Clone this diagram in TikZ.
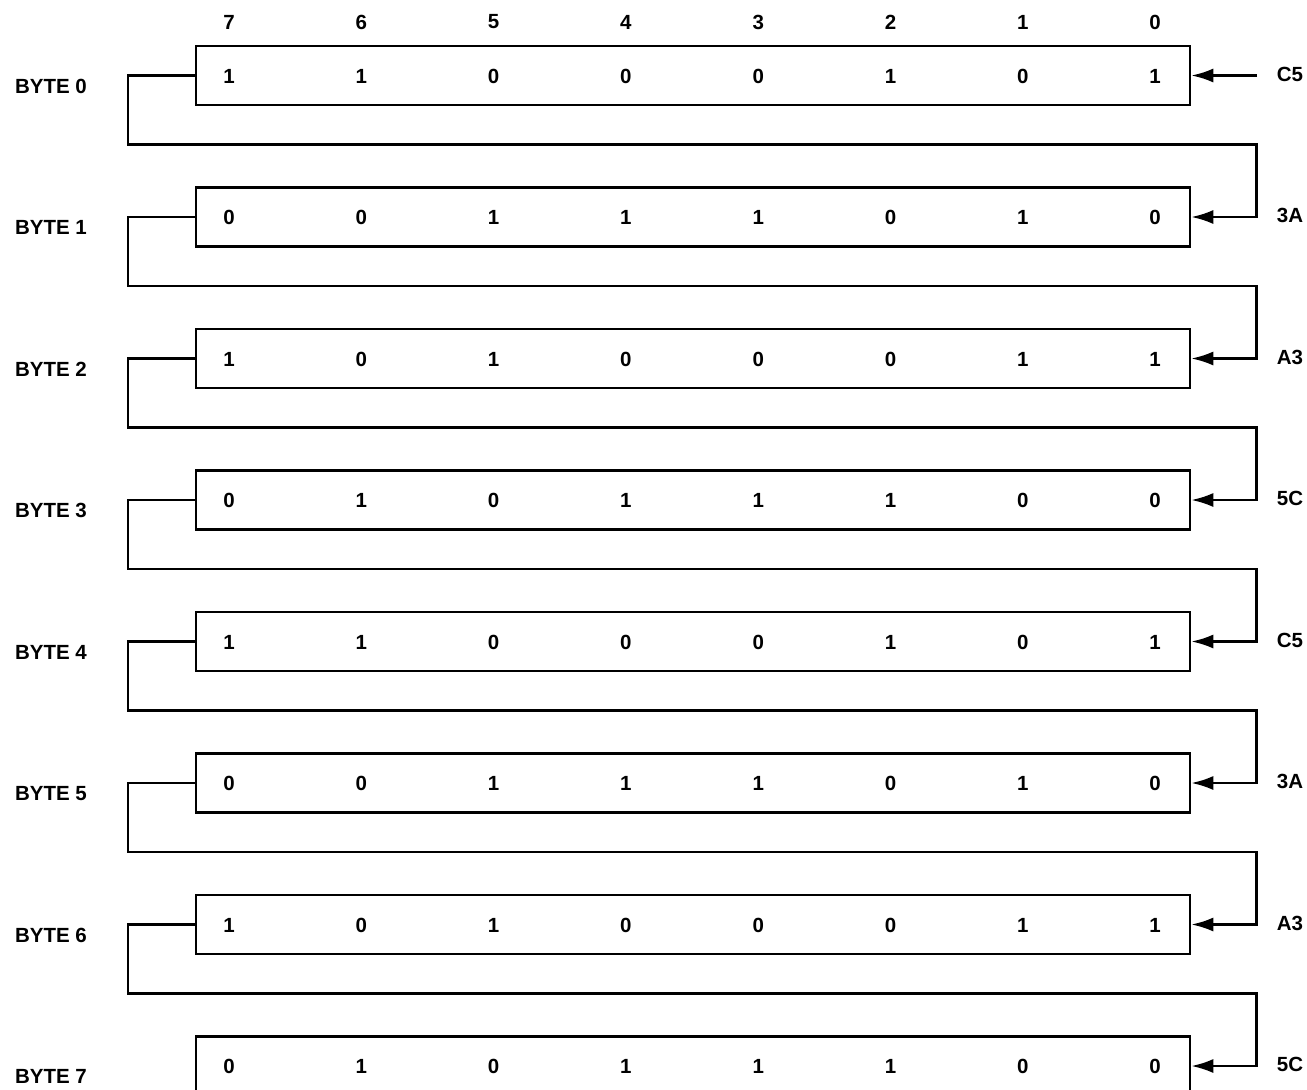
\documentclass[tikz,border=0pt]{standalone}
\usepackage{fontspec}
\setmainfont{Liberation Sans}
\usetikzlibrary{arrows.meta}
\begin{document}
\begin{tikzpicture}[x=1pt,y=-1pt,
  bytebox/.style={draw,line width=2.5pt,minimum width=994pt,minimum height=59pt,inner sep=0pt},
  arr/.style={line width=2.5pt,-{Latex[length=22pt,width=14pt]}},
  txt/.style={font=\fontsize{20.5}{24}\selectfont\bfseries,inner sep=0pt},
  lbl/.style={font=\fontsize{20.5}{24}\selectfont\bfseries,inner sep=0pt}]
\useasboundingbox (0,0) rectangle (1307,1090);
\clip (0,0) rectangle (1307,1090);
% bit headers
\foreach \b [count=\i from 0] in {7,6,5,4,3,2,1,0}
  \node[txt] (h\b) at (229+132.3*\i,22) {\b};
% byte boxes
\foreach \k in {0,...,7}{
  \node[bytebox] (b\k) at (693,75.5+141.5*\k) {};
  \node[lbl] (l\k) at (51,86+141.5*\k) {BYTE \k};
}
% bit values
\newcommand\bitrow[2]{%
  \foreach \v [count=\i from 0] in {#2}
    \node[txt] (d#1-\i) at (229+132.3*\i,76+141.5*#1) {\v};}
\bitrow{0}{1,1,0,0,0,1,0,1}
\bitrow{1}{0,0,1,1,1,0,1,0}
\bitrow{2}{1,0,1,0,0,0,1,1}
\bitrow{3}{0,1,0,1,1,1,0,0}
\bitrow{4}{1,1,0,0,0,1,0,1}
\bitrow{5}{0,0,1,1,1,0,1,0}
\bitrow{6}{1,0,1,0,0,0,1,1}
\bitrow{7}{0,1,0,1,1,1,0,0}
% hex labels
\foreach \h [count=\k from 0] in {C5,3A,A3,5C,C5,3A,A3,5C}
  \node[lbl] (x\k) at (1290,74+141.5*\k) {\h};
% input arrow
\coordinate (in) at (1257,75.5);
\draw[arr] (in) -- (b0.east);
% chain connectors
\foreach \k [evaluate=\k as \n using int(\k+1)] in {0,...,6}
  \draw[arr] (b\k.west) -- ++(-67,0) |- ([xshift=65pt,yshift=-38pt]b\k.south east) |- (b\n.east);
\end{tikzpicture}
\end{document}
